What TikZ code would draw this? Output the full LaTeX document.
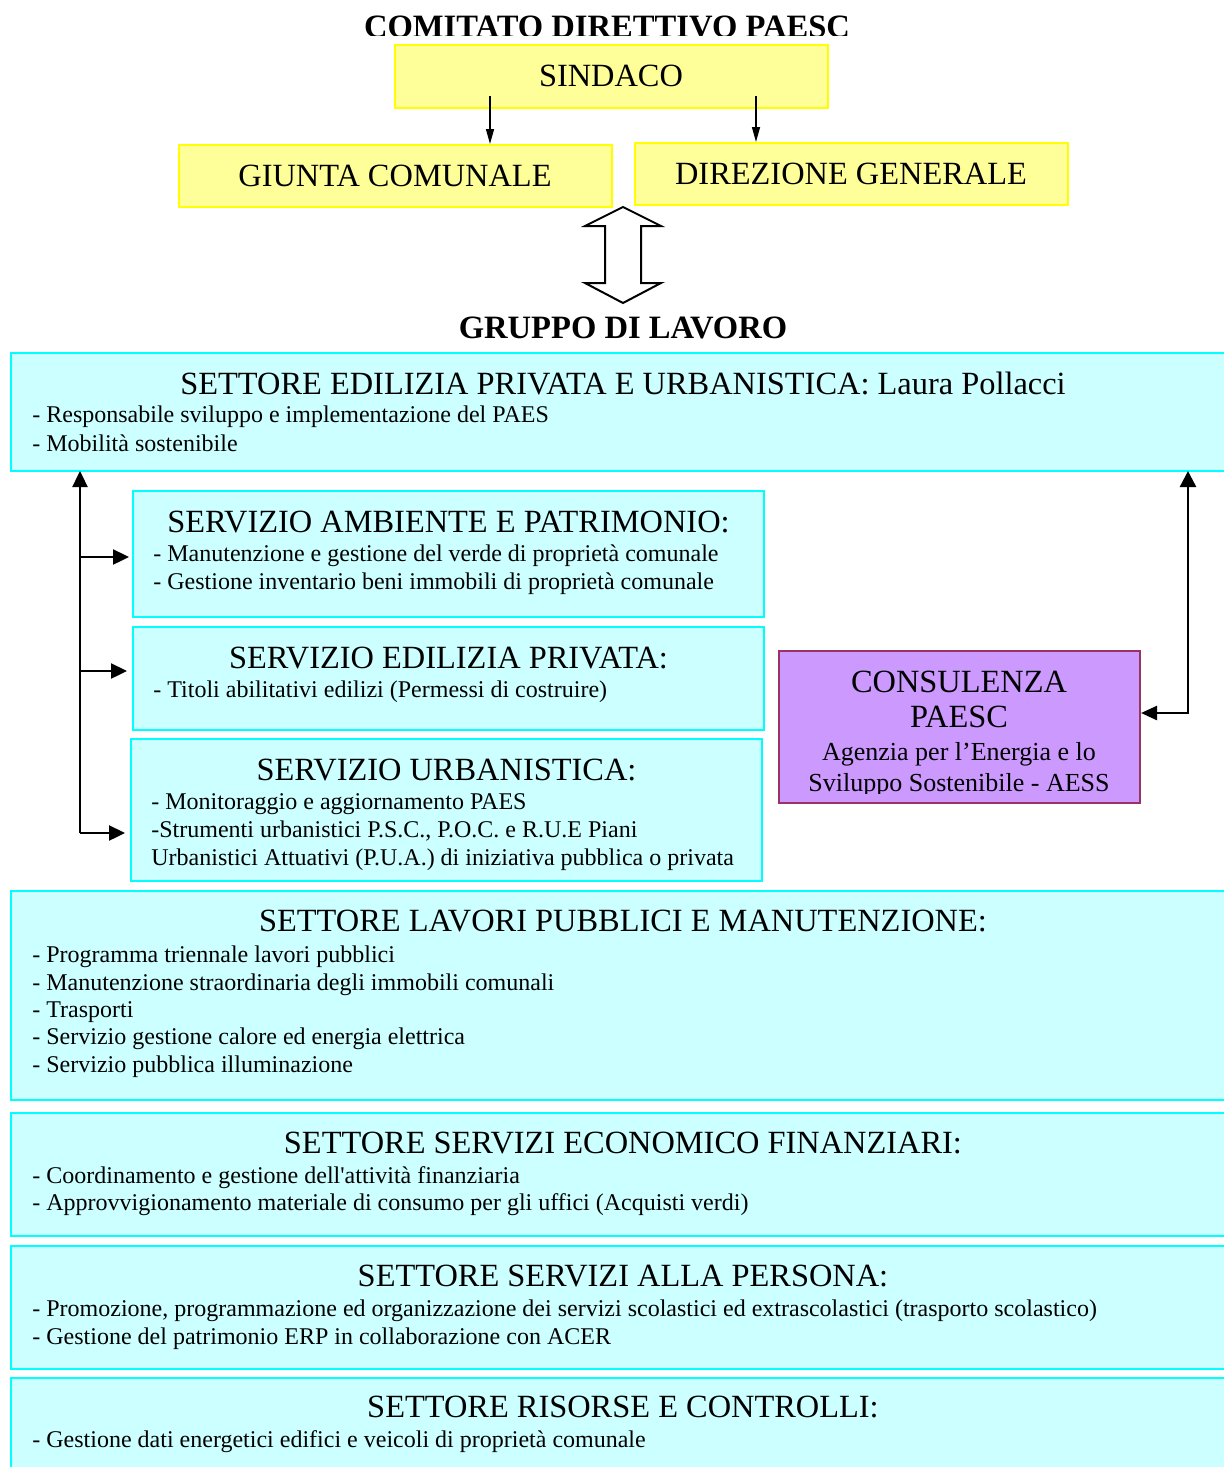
\documentclass[tikz,border=0pt]{standalone}
\usepackage{fontspec}
\setmainfont{Liberation Serif}[Ligatures=TeXOff]
\usetikzlibrary{fit,arrows.meta}
\definecolor{cyfill}{HTML}{CCFFFF}
\definecolor{cyline}{HTML}{00FFFF}
\definecolor{yefill}{HTML}{FFFF99}
\definecolor{yeline}{HTML}{FFFF00}
\definecolor{pufill}{HTML}{CC99FF}
\definecolor{puline}{HTML}{993366}
\begin{document}
\begin{tikzpicture}[x=0.5pt,y=-0.5pt,
 cbox/.style={draw=cyline, fill=cyfill, line width=1pt, inner sep=0pt},
 ybox/.style={draw=yeline, fill=yefill, line width=1pt, inner sep=0pt},
 pbox/.style={draw=puline, fill=pufill, line width=1pt, inner sep=0pt},
 head/.style={anchor=base, inner sep=0pt, font=\fontsize{16.2}{18}\selectfont},
 item/.style={anchor=base west, inner sep=0pt, font=\fontsize{12}{14}\selectfont},
 sub/.style={anchor=base, inner sep=0pt, font=\fontsize{13}{15}\selectfont},
 ttl/.style={anchor=base, inner sep=0pt, font=\fontsize{16.3}{19}\selectfont\bfseries},
 arr/.style={line width=1.2pt, -{Triangle[length=8pt,width=7.5pt]}},
 darr/.style={line width=1.2pt, {Triangle[length=8pt,width=7pt]}-{Triangle[length=8pt,width=8pt]}},
 sarr/.style={line width=0.7pt, -{Triangle[length=7.5pt,width=4pt]}},
]
\useasboundingbox (0,0) rectangle (1224,1467);
\fill[white] (0,0) rectangle (1224,1467);

% ---- top: comitato direttivo
\begin{scope}
\clip (0,0) rectangle (1224,35);
\node[ttl] (t1) at (607,38) {COMITATO DIRETTIVO PAESC};
\end{scope}

\node[ybox, fit={(395,45) (828,108)}] (sind) {};
\node[head] (sindt) at (611,86.5) {SINDACO};
\node[ybox, fit={(179,145) (612,207)}] (giunta) {};
\node[head] (giuntat) at (395,186.5) {GIUNTA COMUNALE};
\node[ybox, fit={(635,143) (1068,205)}] (dir) {};
\node[head] (dirt) at (851,184.5) {DIREZIONE GENERALE};

\coordinate (sa1) at (490,96);
\coordinate (sa2) at (756,96);
\draw[sarr] (sa1) -- (sa1 |- giunta.north);
\draw[sarr] (sa2) -- (sa2 |- dir.north);

% double arrow
\draw[line width=1pt, fill=white, line join=miter]
 (623,207) -- (661,226) -- (641,226) -- (641,283) -- (661,283) -- (623,303)
 -- (585,283) -- (605,283) -- (605,226) -- (585,226) -- cycle;

\node[ttl] (t2) at (623,338) {GRUPPO DI LAVORO};

% ---- settore edilizia privata e urbanistica
\node[cbox, fit={(11,353) (1236,471)}] (s1) {};
\node[head] (s1h) at (623,394.5) {SETTORE EDILIZIA PRIVATA E URBANISTICA: Laura Pollacci};
\node[item] (s1a) at (32,422) {- Responsabile sviluppo e implementazione del PAES};
\node[item] (s1b) at (32,451) {- Mobilità sostenibile};

% ---- servizio ambiente
\node[cbox, fit={(133,491) (764,617)}] (sa) {};
\node[head] (sah) at (448.5,532.5) {SERVIZIO AMBIENTE E PATRIMONIO:};
\node[item] (saa) at (153,561) {- Manutenzione e gestione del verde di proprietà comunale};
\node[item] (sab) at (153,589) {- Gestione inventario beni immobili di proprietà comunale};

% ---- servizio edilizia privata
\node[cbox, fit={(133,627) (764,730)}] (se) {};
\node[head] (seh) at (448.5,668.5) {SERVIZIO EDILIZIA PRIVATA:};
\node[item] (sea) at (153,697) {- Titoli abilitativi edilizi (Permessi di costruire)};

% ---- servizio urbanistica
\node[cbox, fit={(131,739) (762,881)}] (su) {};
\node[head] (suh) at (446.5,780.5) {SERVIZIO URBANISTICA:};
\node[item] (sua) at (151,809) {- Monitoraggio e aggiornamento PAES};
\node[item] (sub) at (151,837) {-Strumenti urbanistici P.S.C., P.O.C. e R.U.E Piani};
\node[item] (suc) at (151,865) {Urbanistici Attuativi (P.U.A.) di iniziativa pubblica o privata};

% ---- consulenza
\node[pbox, fit={(779,651) (1140,803)}] (cons) {};
\node[head] (c1) at (959,692.5) {CONSULENZA};
\node[head] (c2) at (959,727.5) {PAESC};
\node[sub] (c3) at (959,760) {Agenzia per l’Energia e lo};
\begin{scope}
\clip (779,700) rectangle (1140,793);
\node[sub] (c4) at (959,791) {Sviluppo Sostenibile - AESS};
\end{scope}

% ---- left connector
\coordinate (lb) at (80,833);
\coordinate (lt) at (80,471);
\coordinate (b1) at (80,557);
\coordinate (b2) at (80,671);
\draw[arr] (lb) -- (lt);
\draw[arr] (b1) -- ([xshift=-1.5pt]sa.west |- b1);
\draw[arr] (b2) -- ([xshift=-2.5pt]se.west |- b2);
\draw[arr] (lb) -- ([xshift=-2.5pt]su.west |- lb);

% ---- right connector
\coordinate (rb) at (1188,713);
\coordinate (rt) at (1188,471);
\draw[darr] (cons.east |- rb) -- (rb) -- (rt);

% ---- settore lavori pubblici
\node[cbox, fit={(11,891) (1236,1100)}] (s2) {};
\node[head] (s2h) at (623,931.5) {SETTORE LAVORI PUBBLICI E MANUTENZIONE:};
\node[item] (s2a) at (32,962) {- Programma triennale lavori pubblici};
\node[item] (s2b) at (32,990) {- Manutenzione straordinaria degli immobili comunali};
\node[item] (s2c) at (32,1017) {- Trasporti};
\node[item] (s2d) at (32,1044) {- Servizio gestione calore ed energia elettrica};
\node[item] (s2e) at (32,1072) {- Servizio pubblica illuminazione};

% ---- settore servizi economico finanziari
\node[cbox, fit={(11,1113) (1236,1236)}] (s3) {};
\node[head] (s3h) at (623,1153.5) {SETTORE SERVIZI ECONOMICO FINANZIARI:};
\node[item] (s3a) at (32,1183) {- Coordinamento e gestione dell'attività finanziaria};
\node[item] (s3b) at (32,1210) {- Approvvigionamento materiale di consumo per gli uffici (Acquisti verdi)};

% ---- settore servizi alla persona
\node[cbox, fit={(11,1246) (1236,1369)}] (s4) {};
\node[head] (s4h) at (623,1286.5) {SETTORE SERVIZI ALLA PERSONA:};
\node[item] (s4a) at (32,1316) {- Promozione, programmazione ed organizzazione dei servizi scolastici ed extrascolastici (trasporto scolastico)};
\node[item] (s4b) at (32,1344) {- Gestione del patrimonio ERP in collaborazione con ACER};

% ---- settore risorse e controlli
\node[cbox, fit={(11,1378) (1236,1480)}] (s5) {};
\node[head] (s5h) at (623,1417.5) {SETTORE RISORSE E CONTROLLI:};
\node[item] (s5a) at (32,1447) {- Gestione dati energetici edifici e veicoli di proprietà comunale};
\end{tikzpicture}
\end{document}
